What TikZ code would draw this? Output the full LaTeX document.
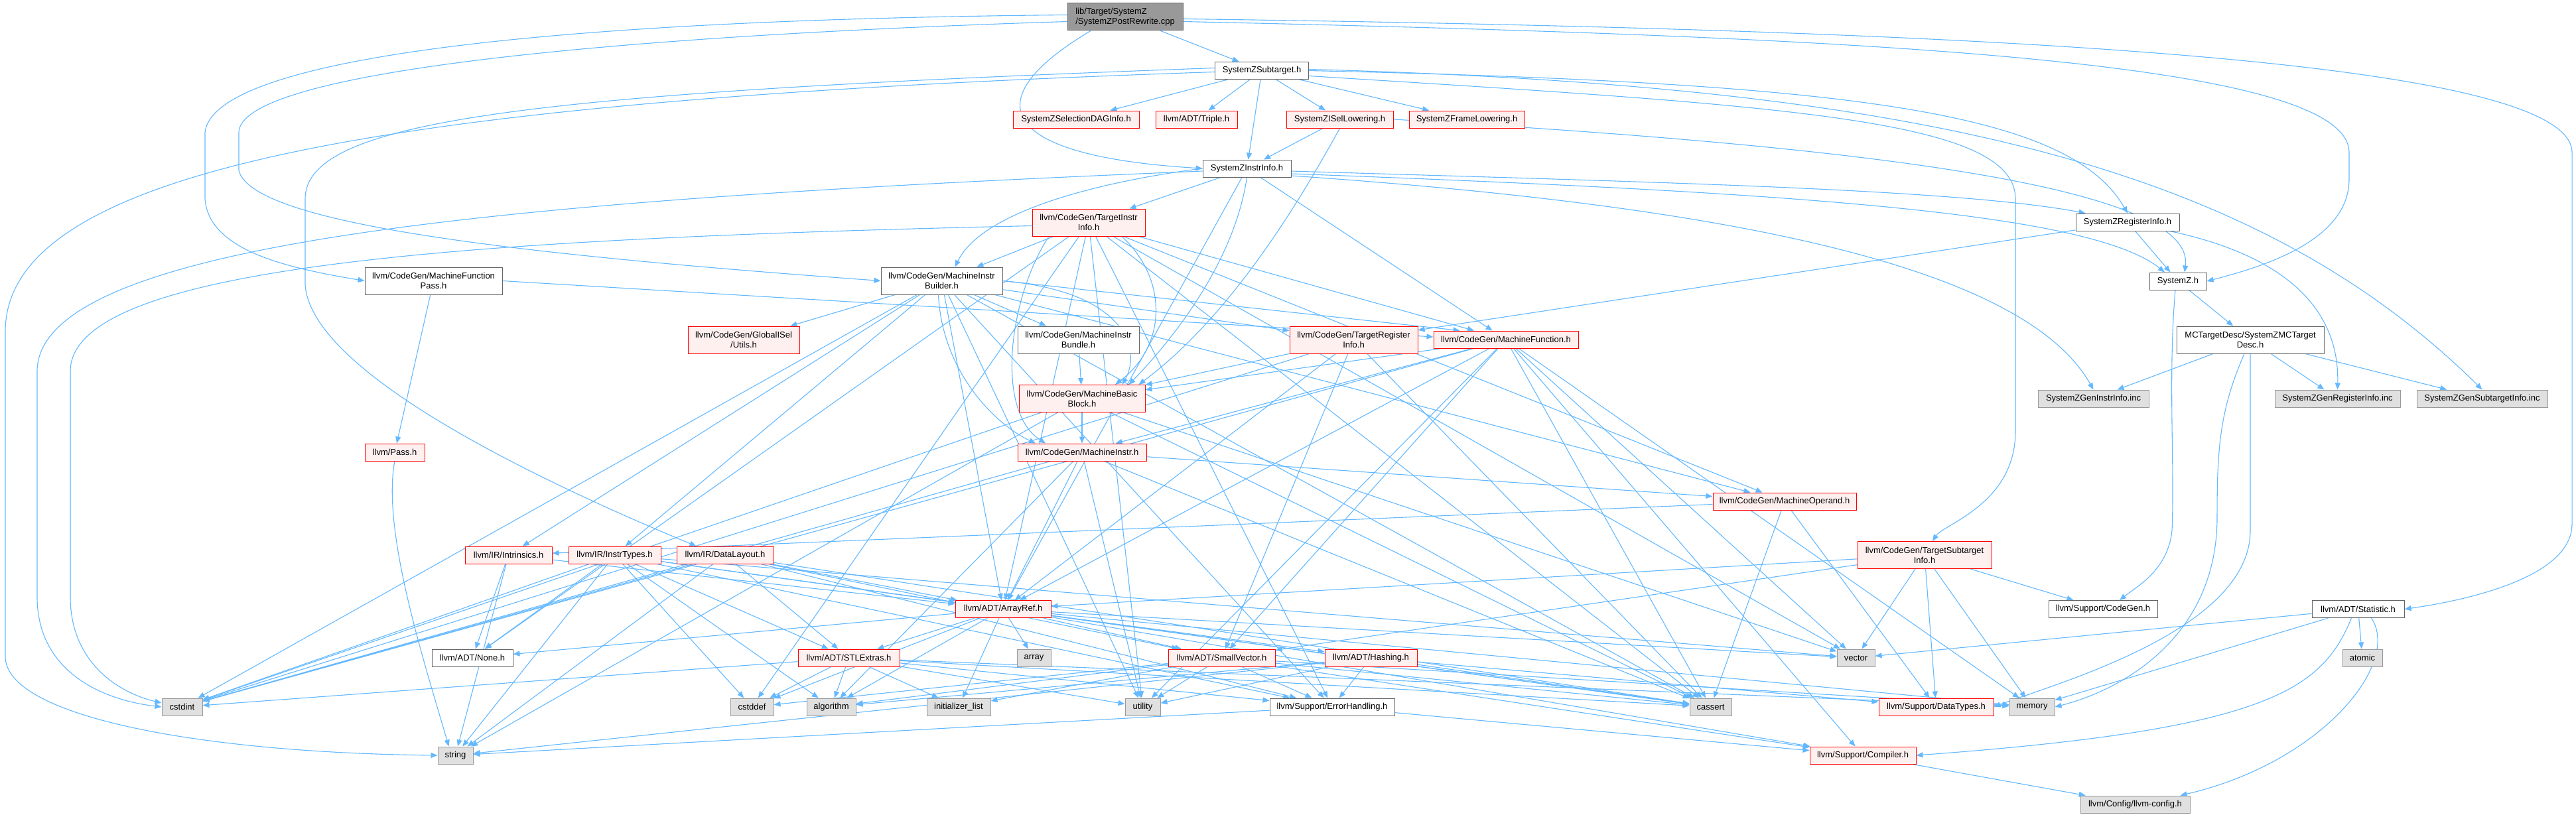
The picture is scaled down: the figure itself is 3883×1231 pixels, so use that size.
\documentclass[tikz,border=0pt]{standalone}
\usepackage{fontspec}
\setmainfont{Liberation Sans}
\usetikzlibrary{arrows.meta}

\definecolor{depblue}{HTML}{63B8FF}
\definecolor{incfill}{HTML}{FFF0F0}
\definecolor{incline}{HTML}{FF0000}
\definecolor{sysfill}{HTML}{E0E0E0}
\definecolor{sysline}{HTML}{999999}
\definecolor{fileline}{HTML}{666666}
\definecolor{rootfill}{HTML}{999999}

\pgfdeclarelayer{edges}
\pgfsetlayers{edges,main}

\tikzset{
  hdr/.style={draw, line width=1pt, inner sep=0pt, minimum height=26pt,
    align=center, font=\fontsize{13}{15}\selectfont},
  twoline/.style={minimum height=41pt},
  wd/.style={minimum width=#1pt},
  known/.style={hdr, fill=white, draw=fileline},
  trunc/.style={hdr, fill=incfill, draw=incline},
  stdlib/.style={hdr, fill=sysfill, draw=sysline},
  srcfile/.style={hdr, fill=rootfill, draw=fileline, align=left},
  inc/.style={draw=depblue, line width=1.1pt, -{Triangle[length=10pt,width=8pt]}},
}

\begin{document}
\begin{tikzpicture}[x=1pt, y=-1pt]
\useasboundingbox (0,0) rectangle (3883,1231);

%% === file e header SystemZ ===
\node[srcfile, wd=174, twoline] (root) at (1696,25.5) {lib/Target/SystemZ\\/SystemZPostRewrite.cpp};
\node[known, wd=141] (subtgt) at (1902,106.5) {SystemZSubtarget.h};
\node[trunc, wd=190] (seldag) at (1622,180) {SystemZSelectionDAGInfo.h};
\node[trunc, wd=123] (triple) at (1803.5,180) {llvm/ADT/Triple.h};
\node[trunc, wd=161] (isel) at (2019.5,180) {SystemZISelLowering.h};
\node[trunc, wd=174] (frame) at (2211,180) {SystemZFrameLowering.h};
\node[known, wd=133] (zinstr) at (1879.5,254) {SystemZInstrInfo.h};
\node[trunc, wd=170, twoline] (tii) at (1641,335.5) {llvm/CodeGen/TargetInstr\\Info.h};
\node[known, wd=156] (zreg) at (3207,335) {SystemZRegisterInfo.h};
\node[known, wd=86] (zsys) at (3283,424) {SystemZ.h};
\node[known, wd=222, twoline] (mctd) at (3392,512.5) {MCTargetDesc/SystemZMCTarget\\Desc.h};
\node[stdlib, wd=167] (geninstr) at (3155.5,601) {SystemZGenInstrInfo.inc};
\node[stdlib, wd=189] (genreg) at (3523.5,601) {SystemZGenRegisterInfo.inc};
\node[stdlib, wd=197] (gensub) at (3741.5,601) {SystemZGenSubtargetInfo.inc};

%% === CodeGen ===
\node[known, wd=207, twoline] (mfpass) at (653.5,423.5) {llvm/CodeGen/MachineFunction\\Pass.h};
\node[known, wd=183, twoline] (mib) at (1419.5,423.5) {llvm/CodeGen/MachineInstr\\Builder.h};
\node[trunc, wd=90] (pass) at (595,682) {llvm/Pass.h};
\node[trunc, wd=168, twoline] (gisel) at (1121,512.5) {llvm/CodeGen/GlobalISel\\/Utils.h};
\node[known, wd=183, twoline] (bundle) at (1625.5,512.5) {llvm/CodeGen/MachineInstr\\Bundle.h};
\node[trunc, wd=193, twoline] (tri) at (2040.5,512.5) {llvm/CodeGen/TargetRegister\\Info.h};
\node[trunc, wd=218] (mf) at (2270,512) {llvm/CodeGen/MachineFunction.h};
\node[trunc, wd=190, twoline] (mbb) at (1631,601) {llvm/CodeGen/MachineBasic\\Block.h};
\node[trunc, wd=194] (mi) at (1631,682) {llvm/CodeGen/MachineInstr.h};
\node[trunc, wd=216] (mo) at (2690,756) {llvm/CodeGen/MachineOperand.h};
\node[trunc, wd=202, twoline] (tsi) at (2901,837) {llvm/CodeGen/TargetSubtarget\\Info.h};

%% === IR, ADT, Support ===
\node[trunc, wd=131] (intrin) at (766.5,837) {llvm/IR/Intrinsics.h};
\node[trunc, wd=139] (itypes) at (926.5,837) {llvm/IR/InstrTypes.h};
\node[trunc, wd=146] (dlayout) at (1093,837) {llvm/IR/DataLayout.h};
\node[known, wd=122] (none) at (712,992) {llvm/ADT/None.h};
\node[trunc, wd=144] (aref) at (1512,918.5) {llvm/ADT/ArrayRef.h};
\node[trunc, wd=153] (stlx) at (1279.5,992) {llvm/ADT/STLExtras.h};
\node[trunc, wd=161] (svec) at (1841.5,992) {llvm/ADT/SmallVector.h};
\node[trunc, wd=139] (hashing) at (2066.5,992) {llvm/ADT/Hashing.h};
\node[known, wd=188] (errh) at (2008,1066) {llvm/Support/ErrorHandling.h};
\node[trunc, wd=173] (dtypes) at (2918.5,1066) {llvm/Support/DataTypes.h};
\node[trunc, wd=160] (compiler) at (2808,1139) {llvm/Support/Compiler.h};
\node[known, wd=164] (cgen) at (3170,918.5) {llvm/Support/CodeGen.h};
\node[known, wd=139] (stat) at (3554.5,918.5) {llvm/ADT/Statistic.h};
\node[stdlib, wd=165] (config) at (3218.5,1213) {llvm/Config/llvm-config.h};

%% === header di sistema ===
\node[stdlib, wd=61] (cstdint) at (274.5,1066) {cstdint};
\node[stdlib, wd=53] (string) at (686.5,1139) {string};
\node[stdlib, wd=51] (array) at (1558.5,992) {array};
\node[stdlib, wd=65] (cstddef) at (1133.5,1066) {cstddef};
\node[stdlib, wd=74] (algo) at (1253,1066) {algorithm};
\node[stdlib, wd=96] (initl) at (1445,1066) {initializer\_list};
\node[stdlib, wd=53] (utility) at (1722.5,1066) {utility};
\node[stdlib, wd=57] (vector) at (2797.5,992) {vector};
\node[stdlib, wd=63] (cassert) at (2578.5,1066) {cassert};
\node[stdlib, wd=60] (atomic) at (3561,992) {atomic};
\node[stdlib, wd=68] (memory) at (3063,1066) {memory};

\begin{pgfonlayer}{edges}
%% include del file .cpp
\draw[inc] (root) -- (subtgt);
\draw[inc] ([xshift=-52pt]root.south) .. controls (1470,150) and (1500,235) .. (zinstr.west);
\draw[inc] ([yshift=-3pt]root.east) .. controls (3000,45) and (3877,90) .. (3877,230) -- (3877,790)
    .. controls (3877,870) and (3720,905) .. (stat.east);
\draw[inc] ([yshift=-7pt]root.east) .. controls (2800,55) and (3541,90) .. (3541,230) -- (3541,270)
    .. controls (3541,360) and (3420,400) .. (zsys.east);
\draw[inc] ([yshift=3pt]root.west) .. controls (800,30) and (320,90) .. (309,200) -- (309,300)
    .. controls (315,380) and (440,405) .. (mfpass.west);
\draw[inc] ([yshift=-7pt]root.west) .. controls (900,55) and (360,110) .. (360,200) -- (360,257)
    .. controls (380,340) and (800,385) .. (mib.west);

%% SystemZSubtarget.h
\foreach \t in {seldag,triple,zinstr,isel,frame} \draw[inc] (subtgt) -- (\t);
\draw[inc] (subtgt.east) .. controls (2800,125) and (3120,170) .. (zreg.north);
\draw[inc] ([yshift=2pt]subtgt.east) .. controls (2900,130) and (3400,250) .. (gensub.north);
\draw[inc] ([yshift=-8pt]subtgt.east) .. controls (2700,160) and (3038,180) .. (3038,300) -- (3038,650)
    .. controls (3038,760) and (2930,790) .. ([xshift=12pt]tsi.north);
\draw[inc] ([yshift=4pt]subtgt.west) .. controls (800,140) and (460,180) .. (460,300) -- (460,430)
    .. controls (470,560) and (800,720) .. ([xshift=30pt]dlayout.north west);
\draw[inc] ([yshift=-2pt]subtgt.west) .. controls (600,150) and (8,250) .. (8,500) -- (8,990)
    .. controls (8,1080) and (300,1135) .. (string.west);

%% SystemZISelLowering.h
\draw[inc] (isel) -- (zinstr);
\draw[inc] (isel.east) .. controls (2800,220) and (3310,280) .. ([xshift=10pt]zsys.north);
\draw[inc] (isel.south) .. controls (1950,320) and (1850,480) .. ([xshift=-10pt]mbb.north east);

%% SystemZInstrInfo.h
\draw[inc] (zinstr) -- (tii);
\draw[inc] (zinstr) -- (mf);
\draw[inc] (zinstr) -- (aref);
\draw[inc] (zinstr.west) .. controls (1650,275) and (1480,320) .. ([xshift=20pt]mib.north);
\draw[inc] (zinstr.south) .. controls (1860,400) and (1760,520) .. ([xshift=-25pt]mbb.north east);
\draw[inc] ([yshift=-4pt]zinstr.east) .. controls (2500,275) and (2950,285) .. ([xshift=15pt]zreg.north west);
\draw[inc] ([yshift=-8pt]zinstr.east) .. controls (2700,290) and (3150,320) .. ([xshift=-20pt]zsys.north);
\draw[inc] ([yshift=-11pt]zinstr.east) .. controls (2600,310) and (3050,400) .. (geninstr.north);
\draw[inc] ([yshift=-4pt]zinstr.west) .. controls (800,300) and (56,360) .. (56,560) -- (56,900)
    .. controls (56,1010) and (150,1055) .. (cstdint.west);

%% TargetInstrInfo.h
\foreach \t in {mib,mf,mo,aref,none,errh,cassert,cstddef,utility,vector} \draw[inc] (tii) -- (\t);
\draw[inc] ([xshift=50pt]tii.south) .. controls (1760,420) and (1760,520) .. ([xshift=50pt]mbb.north);
\draw[inc] ([xshift=-60pt]tii.south) .. controls (1520,450) and (1500,620) .. ([xshift=-55pt]mi.north);
\draw[inc] ([yshift=-5pt]tii.west) .. controls (700,360) and (106,400) .. (106,560) -- (106,900)
    .. controls (106,1000) and (180,1045) .. ([yshift=6pt]cstdint.west);

%% SystemZRegisterInfo.h, SystemZ.h, MC
\draw[inc] (zreg) -- (zsys);
\draw[inc] (zreg) -- (tri);
\draw[inc] ([xshift=-15pt]zreg.south east) .. controls (3420,380) and (3527,450) .. (genreg.north);
\draw[inc] (zsys) -- (mctd);
\draw[inc] ([xshift=-4pt]zsys.south) .. controls (3268,560) and (3278,700) .. (3274,800)
    .. controls (3268,860) and (3220,885) .. ([xshift=25pt]cgen.north);
\foreach \t in {geninstr,genreg,gensub} \draw[inc] (mctd) -- (\t);
\draw[inc] ([xshift=-9pt]mctd.south) .. controls (3345,620) and (3342,680) .. (3342,780)
    .. controls (3342,960) and (3200,1040) .. (memory.east);
\draw[inc] (mctd.south) -- (3392,800) .. controls (3392,950) and (3100,1030) .. (dtypes.east);

%% MachineFunctionPass.h, Pass.h
\draw[inc] (mfpass) -- (pass);
\draw[inc] (mfpass.east) -- ([yshift=4pt]mf.west);
\draw[inc] (pass.south) .. controls (575,800) and (640,1000) .. ([xshift=-10pt]string.north);

%% MachineInstrBuilder.h
\foreach \t in {gisel,bundle,tri,mo,aref,itypes,intrin,errh,cassert,cstdint,utility} \draw[inc] (mib) -- (\t);
\draw[inc] (mib.east) -- ([xshift=40pt]mf.north west);
\draw[inc] (mib.east) .. controls (1700,440) and (1720,530) .. ([xshift=-35pt]mbb.north east);
\draw[inc] ([xshift=-5pt]mib.south) .. controls (1420,560) and (1500,640) .. ([xshift=-70pt]mi.north);
\draw[inc] (bundle) -- (mbb);

%% TargetRegisterInfo.h, MachineFunction.h
\foreach \t in {mbb,aref,svec,cassert,cstdint} \draw[inc] (tri) -- (\t);
\foreach \t in {mbb,mi,aref,svec,compiler,cassert,cstdint,memory,utility,vector} \draw[inc] (mf) -- (\t);

%% MachineBasicBlock.h, MachineInstr.h, MachineOperand.h
\foreach \t in {mi,cassert,cstdint,string,vector} \draw[inc] (mbb) -- (\t);
\foreach \t in {mo,algo,cassert,cstdint,utility,aref} \draw[inc] (mi) -- (\t);
\foreach \t in {intrin,cassert,dtypes} \draw[inc] (mo) -- (\t);

%% TargetSubtargetInfo.h
\foreach \t in {cgen,memory,vector,dtypes,aref,svec} \draw[inc] (tsi) -- (\t);

%% IR
\foreach \t in {none,string,aref} \draw[inc] (intrin) -- (\t);
\foreach \t in {aref,none,stlx,errh,algo,cassert,cstddef,cstdint,string,vector} \draw[inc] (itypes) -- (\t);
\foreach \t in {aref,stlx,svec,errh,cassert,cstdint,string} \draw[inc] (dlayout) -- (\t);

%% ADT
\foreach \t in {hashing,none,svec,stlx,array,cstddef,algo,initl,memory,vector,compiler,cassert} \draw[inc] (aref) -- (\t);
\foreach \t in {errh,algo,cassert,cstddef,cstdint,initl,memory,utility} \draw[inc] (stlx) -- (\t);
\foreach \t in {compiler,errh,algo,cassert,cstddef,initl,memory,utility} \draw[inc] (svec) -- (\t);
\foreach \t in {errh,dtypes,cassert,algo,utility,string} \draw[inc] (hashing) -- (\t);

%% Support
\foreach \t in {compiler,string} \draw[inc] (errh) -- (\t);
\draw[inc] (compiler) -- (config);

%% Statistic.h
\foreach \t in {memory,atomic,vector} \draw[inc] (stat) -- (\t);
\draw[inc] ([xshift=-10pt]stat.south) .. controls (3500,1040) and (3420,1100) .. (compiler.east);
\draw[inc] ([xshift=20pt]stat.south) .. controls (3620,1000) and (3500,1150) .. ([xshift=-15pt]config.north east);
\end{pgfonlayer}

\end{tikzpicture}
\end{document}
